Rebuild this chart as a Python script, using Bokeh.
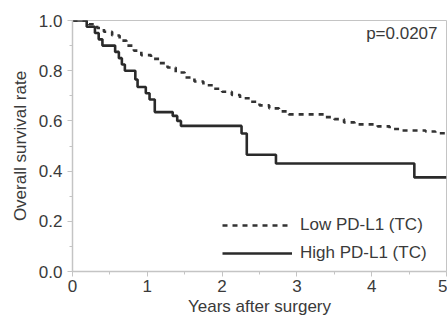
from bokeh.plotting import figure
from bokeh.models import Label, Legend, LegendItem, FixedTicker
from bokeh.embed import file_html
from bokeh.resources import INLINE

# ---- data ----
high_times = [0.19, 0.30, 0.35, 0.40, 0.57, 0.62, 0.66, 0.70, 0.84, 0.87, 0.98, 1.03, 1.10,
              1.34, 1.40, 1.45, 2.26, 2.33, 2.72, 4.57]
high_surv = [0.975, 0.95, 0.925, 0.90, 0.875, 0.85, 0.825, 0.80, 0.765, 0.735, 0.71, 0.685, 0.635,
             0.62, 0.60, 0.58, 0.55, 0.465, 0.43, 0.375]

low_times = [0.22, 0.33, 0.42, 0.53, 0.63, 0.72, 0.82, 0.92, 1.05, 1.16, 1.27, 1.38, 1.50, 1.63,
             1.75, 1.88, 2.00, 2.13, 2.24, 2.37, 2.50, 2.63, 2.76, 2.89, 3.37, 3.50, 3.63, 3.77,
             4.08, 4.24, 4.37, 4.72, 4.85]
low_surv = [0.985, 0.97, 0.955, 0.94, 0.92, 0.90, 0.88, 0.862, 0.847, 0.83, 0.813, 0.793, 0.773,
            0.757, 0.742, 0.728, 0.716, 0.703, 0.69, 0.676, 0.662, 0.65, 0.638, 0.626, 0.615,
            0.607, 0.594, 0.586, 0.578, 0.568, 0.562, 0.558, 0.551]

x_ticks = [0, 1, 2, 3, 4, 5]
x_tick_labels = ["0", "1", "2", "3", "4", "5"]
x_minor = [0.5, 1.5, 2.5, 3.5, 4.5]
y_ticks = [0.0, 0.2, 0.4, 0.6, 0.8, 1.0]
y_tick_labels = ["0.0", "0.2", "0.4", "0.6", "0.8", "1.0"]
y_minor = [0.1, 0.3, 0.5, 0.7, 0.9]

series_labels = ["Low PD-L1 (TC)", "High PD-L1 (TC)"]
p_text = "p=0.0207"
x_title = "Years after surgery"
y_title = "Overall survival rate"
x_max = 5.0

FONT = "Liberation Sans"
TXT = "#3a3a3a"
AX = "#c4c4c4"

p = figure(width=447, height=321, output_backend="svg", toolbar_location=None,
           x_range=(0, x_max), y_range=(0, 1.0),
           min_border_left=72, min_border_right=1, min_border_top=20, min_border_bottom=50)
p.xgrid.visible = False
p.ygrid.visible = False
p.outline_line_color = AX
p.outline_line_width = 1
p.background_fill_color = "white"
p.border_fill_color = "white"

hx = [0] + high_times + [x_max]
hy = [1.0] + high_surv + [high_surv[-1]]
lx = [0] + low_times + [x_max]
ly = [1.0] + low_surv + [low_surv[-1]]

r_low = p.step(lx, ly, mode="after", line_color="#333333", line_width=2.6, line_dash="5 5")
r_high = p.step(hx, hy, mode="after", line_color="#2a2a2a", line_width=2.6)

for ax, ticks, minor, labels in ((p.xaxis[0], x_ticks, x_minor, x_tick_labels),
                                 (p.yaxis[0], y_ticks, y_minor, y_tick_labels)):
    ax.ticker = FixedTicker(ticks=ticks, minor_ticks=minor)
    ax.major_label_overrides = {t: l for t, l in zip(ticks, labels)}
    ax.axis_line_color = AX
    ax.axis_line_width = 1.5
    ax.major_tick_line_color = AX
    ax.minor_tick_line_color = AX
    ax.major_tick_in = 0
    ax.major_tick_out = 5
    ax.minor_tick_in = 0
    ax.minor_tick_out = 3
    ax.major_label_text_font = FONT
    ax.major_label_text_font_size = "17px"
    ax.major_label_text_color = TXT
    ax.axis_label_text_font = FONT
    ax.axis_label_text_font_size = "17px"
    ax.axis_label_text_font_style = "normal"
    ax.axis_label_text_color = TXT

p.xaxis.major_label_standoff = 3
p.xaxis.axis_label = x_title
p.xaxis.axis_label_standoff = 2
p.yaxis.major_label_standoff = 5
p.yaxis.axis_label = y_title
p.yaxis.axis_label_standoff = 6

p.add_layout(Label(x=4.88, y=0.948, text=p_text, text_align="right", text_baseline="middle",
                   text_font=FONT, text_font_size="17px", text_color=TXT))

legend = Legend(items=[LegendItem(label=series_labels[0], renderers=[r_low]),
                       LegendItem(label=series_labels[1], renderers=[r_high])],
                location=(150, 8), orientation="vertical",
                glyph_width=70, glyph_height=20, label_height=20, label_standoff=8, spacing=8,
                padding=0, margin=0, border_line_color=None, background_fill_alpha=0,
                label_text_font=FONT, label_text_font_size="17px", label_text_color=TXT)
p.add_layout(legend)

open("out.html", "w").write(file_html(p, INLINE))
